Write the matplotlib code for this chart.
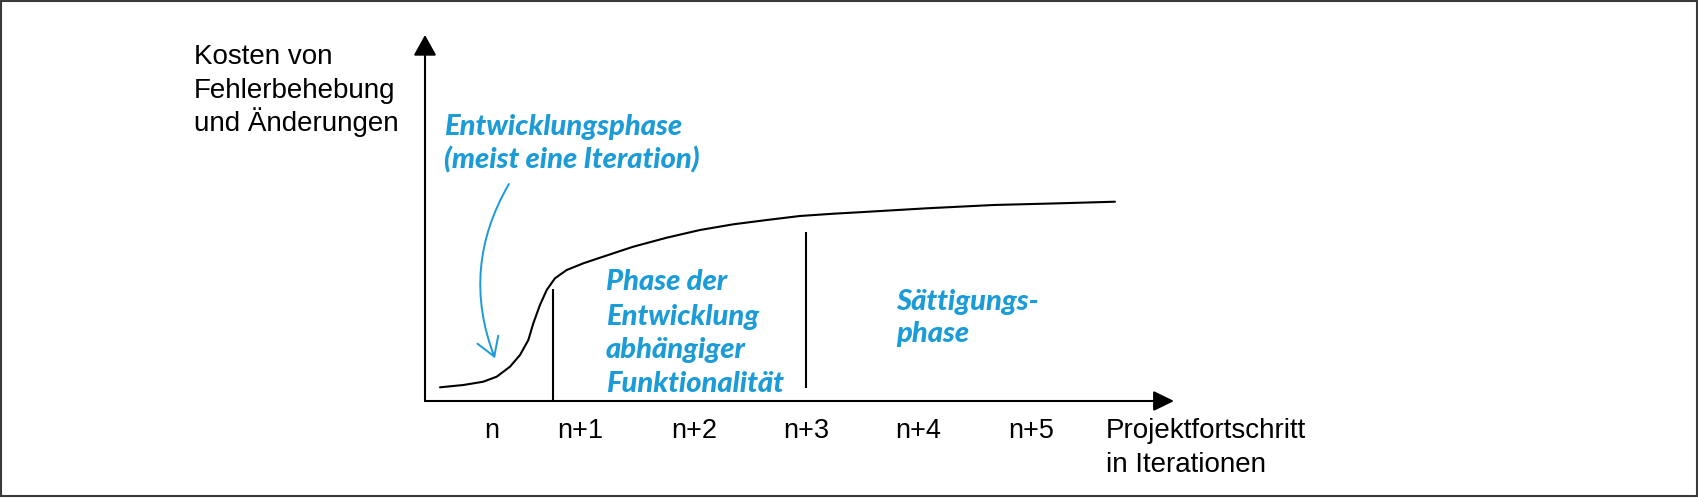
import matplotlib
matplotlib.use('Agg')
import matplotlib.pyplot as plt
from matplotlib.patches import Rectangle, FancyArrowPatch

W, H = 1699, 500
BLUE = '#1b9bd7'

# cost curve (x in iteration widths from the y axis, y in % of axis height)
curve_x = [0.133, 0.340, 0.517, 0.636, 0.754, 0.843, 0.917, 0.961, 1.020, 1.080, 1.153,
           1.257, 1.405, 1.553, 1.848, 2.145, 2.440, 2.736, 3.032, 3.327, 3.623, 3.860,
           4.452, 5.043, 5.634, 6.122]
curve_y = [3.74, 4.37, 5.27, 6.64, 9.37, 12.57, 16.67, 21.23, 26.23, 30.33, 33.52,
           35.79, 37.62, 39.15, 42.16, 44.62, 46.72, 48.28, 49.45, 50.55, 51.17, 51.58,
           52.65, 53.55, 54.02, 54.45]

tick_pos = [0.59, 1.38, 2.39, 3.38, 4.38, 5.38]
tick_labels = ['n', 'n+1', 'n+2', 'n+3', 'n+4', 'n+5']

# phase boundaries: x, y bottom, y top
bound_x = [1.133, 3.38]
bound_lo = [0.0, 3.5]
bound_hi = [30.5, 46.3]

black_font = ['Liberation Sans', 'DejaVu Sans']
blue_font = ['Lato', 'DejaVu Sans']


def px(x, y):
    # figure pixel (from top-left) -> figure fraction
    return x / W, 1 - y / H


fig = plt.figure(figsize=(W / 100, H / 100), dpi=100)

ax = fig.add_axes([425 / W, (H - 401) / H, 749 / W, 366 / H])
ax.set_xlim(0, 749 / 112.7)
ax.set_ylim(0, 100)
for s in ax.spines.values():
    s.set_visible(False)
ax.set_yticks([])
ax.set_xticks(tick_pos, labels=tick_labels)
ax.tick_params(axis='x', length=0, pad=12)
for t in ax.get_xticklabels():
    t.set_fontfamily(black_font)
    t.set_fontsize(19.5)

# axes with arrow heads
ax.annotate('', xy=(1, 0), xytext=(0, 0), xycoords='axes fraction',
            arrowprops=dict(arrowstyle='-|>,head_length=0.45,head_width=0.22',
                            lw=1.5, color='k', shrinkA=0, shrinkB=0, mutation_scale=28))
ax.annotate('', xy=(0, 1), xytext=(0, 0), xycoords='axes fraction',
            arrowprops=dict(arrowstyle='-|>,head_length=0.45,head_width=0.25',
                            lw=1.5, color='k', shrinkA=0, shrinkB=0, mutation_scale=28))

ax.plot(curve_x, curve_y, color='k', lw=1.5, solid_joinstyle='round', solid_capstyle='round')
ax.vlines(bound_x, bound_lo, bound_hi, color='k', lw=1.5)

# blue pointer
arr = FancyArrowPatch((0.745, 59.3), (0.621, 11.67), connectionstyle='arc3,rad=0.24',
                      arrowstyle='->,head_length=0.65,head_width=0.4', mutation_scale=20,
                      color=BLUE, lw=1.4, shrinkA=0, shrinkB=0)
ax.add_patch(arr)

# black labels
for txt, y in [('Kosten von', 64), ('Fehlerbehebung', 98), ('und Änderungen', 131)]:
    fig.text(*px(194, y), txt, fontsize=20, family=black_font, va='baseline', ha='left')
for txt, y in [('Projektfortschritt', 438), ('in Iterationen', 472)]:
    fig.text(*px(1106, y), txt, fontsize=20, family=black_font, va='baseline', ha='left')

# blue labels
blue_kw = dict(fontsize=21, family=blue_font, weight='black', style='italic',
               color=BLUE, va='baseline', ha='left')
for txt, x, y in [('Entwicklungsphase', 444, 135), ('(meist eine Iteration)', 444, 168),
                  ('Phase der', 606, 290), ('Entwicklung', 606, 325),
                  ('abhängiger', 606, 358), ('Funktionalität', 606, 392),
                  ('Sättigungs-', 896, 310), ('phase', 896, 342)]:
    fig.text(*px(x, y), txt, **blue_kw)

# picture frame
fig.patches.append(Rectangle((1 / W, 4 / H), 1696 / W, 495 / H, transform=fig.transFigure,
                             fill=False, edgecolor='#3a3a3a', lw=1.5))

fig.savefig('out.png', dpi=100)
